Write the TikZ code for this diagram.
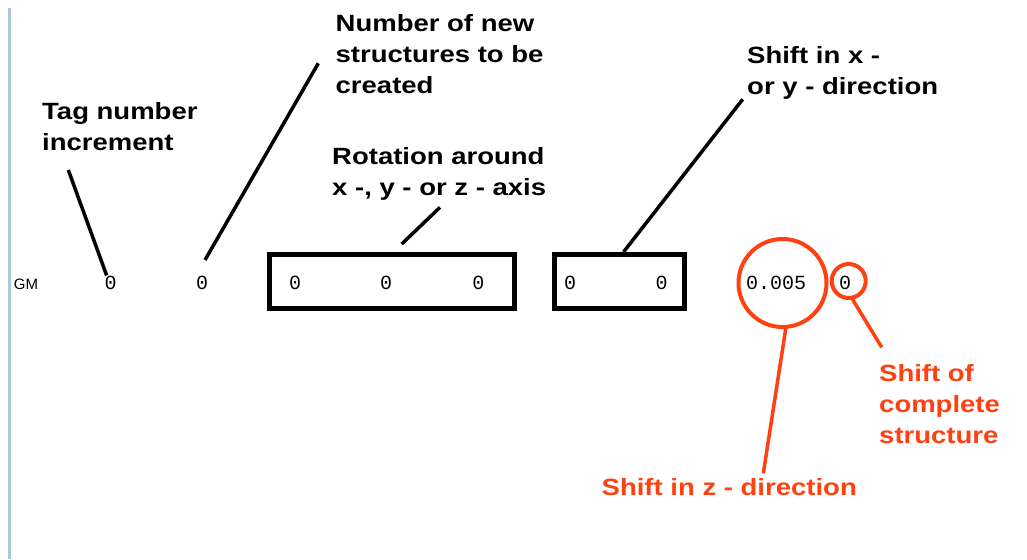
\documentclass[tikz,border=0pt]{standalone}
\usepackage{fontspec}
\newfontfamily\lblfont{Liberation Sans}[FakeStretch=1.17]
\newfontfamily\valfont{Liberation Mono}
\newfontfamily\gmfont{Liberation Sans}
\definecolor{markred}{RGB}{255,64,16}
\definecolor{rulblue}{RGB}{176,196,222}

\begin{document}
\begin{tikzpicture}[
    x=1pt, y=-1pt,
    frame/.style={draw, rectangle, line width=5pt, inner sep=0pt},
    ring/.style={draw=markred, circle, line width=4pt, inner sep=0pt},
    val/.style={anchor=base, inner sep=0pt, font=\valfont\fontsize{20}{24}\selectfont},
    lbl/.style={anchor=base west, inner sep=0pt, align=left, font=\lblfont\bfseries\fontsize{23.5}{31}\selectfont},
    leader/.style={line width=3.5pt},
    redleader/.style={line width=3.5pt, draw=markred}
]
  \useasboundingbox[fill=white] (0,0) rectangle (1027,559);

  % Margin rule
  \draw[rulblue, line width=2.5pt] (9.5,8) -- (9.5,559);

  % Value row
  \node[anchor=base, inner sep=0pt, font=\gmfont\fontsize{15}{18}\selectfont] (gm) at (26,289) {GM};
  \node[val] (val_tag) at (110.7,289) {0};
  \node[val] (val_num) at (202,289)   {0};
  \node[val] (rot_x)   at (295,289)   {0};
  \node[val] (rot_y)   at (386,289)   {0};
  \node[val] (rot_z)   at (478.3,289) {0};
  \node[val] (shift_x) at (570,289)   {0};
  \node[val] (shift_y) at (661.7,289) {0};
  \node[val] (shift_z) at (776,289)   {0.005};
  \node[val] (shift_all) at (845,289) {0};

  % Boxes and rings
  \node[frame, minimum width=244.4pt, minimum height=54pt] (rot_box) at (392,281.5) {};
  \node[frame, minimum width=130.6pt, minimum height=54pt] (xy_box)  at (619.5,281.5) {};
  \node[ring, minimum size=88pt] (z_ring)   at (782.5,283) {};
  \node[ring, minimum size=34pt] (all_ring) at (848.7,281) {};

  % Labels (placed at the baseline of their last line)
  \node[lbl] (lbl_tag) at (42,150.5) {Tag number\\increment};
  \node[lbl] (lbl_num) at (335.5,93.5) {Number of new\\structures to be\\created};
  \node[lbl] (lbl_rot) at (332,195.5) {Rotation around\\x -, y - or z - axis};
  \node[lbl] (lbl_xy)  at (747,95) {Shift in x -\\or y - direction};
  \node[lbl, text=markred] (lbl_all) at (879,443) {Shift of\\complete\\structure};
  \node[lbl, text=markred] (lbl_z)   at (601.5,495.7) {Shift in z - direction};

  % Leader ends
  \coordinate (tag_end) at (68.3,170);
  \coordinate (num_start) at (205,260);
  \coordinate (num_end) at (318.3,63.3);
  \coordinate (rot_start) at (401.7,244);
  \coordinate (rot_end) at (440,207.3);
  \coordinate (xy_end) at (742.7,99.3);
  \coordinate (z_end) at (763.3,473.3);
  \coordinate (all_end) at (881.7,347.3);

  % Leaders
  \draw[leader] (val_tag.120) -- (tag_end);
  \draw[leader] (num_start) -- (num_end);
  \draw[leader] (rot_start) -- (rot_end);
  \draw[leader] ([xshift=4pt]xy_box.north) -- (xy_end);
  \draw[redleader] (z_ring.-86) -- (z_end);
  \draw[redleader] (all_ring.-78) -- (all_end);

\end{tikzpicture}
\end{document}
